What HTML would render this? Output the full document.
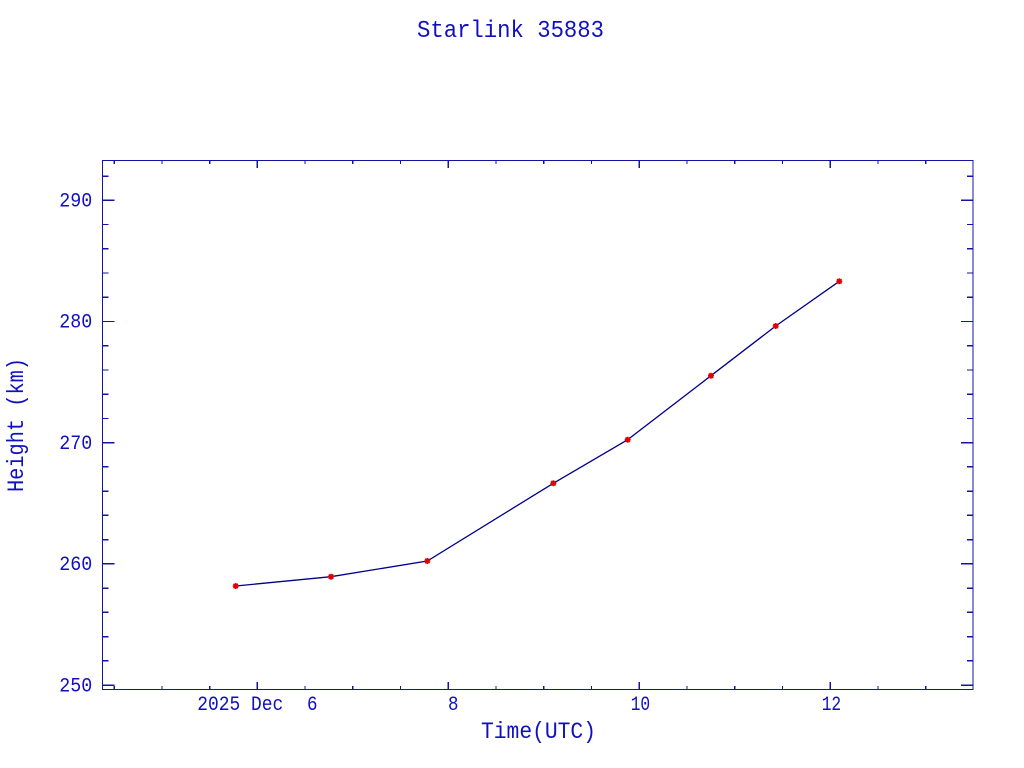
<!DOCTYPE html>
<html><head><meta charset="utf-8"><style>
html,body{margin:0;padding:0;background:#fff;}
svg{display:block;}
text{font-family:"Liberation Mono",monospace;fill:#1010c0;}
</style></head><body>
<svg width="1024" height="768" viewBox="0 0 1024 768" xmlns="http://www.w3.org/2000/svg">
<rect width="1024" height="768" fill="#fff"/>
<text x="417" y="37" font-size="24" textLength="187" lengthAdjust="spacingAndGlyphs">Starlink 35883</text>
<g stroke="#1414a0" stroke-width="1.4" fill="none" shape-rendering="crispEdges">
<rect x="102.5" y="160.5" width="870.5" height="529"/>
<path d="
M102.5 685.1h12 M973 685.1h-12
M102.5 563.9h12 M973 563.9h-12
M102.5 442.7h12 M973 442.7h-12
M102.5 321.5h12 M973 321.5h-12
M102.5 200.3h12 M973 200.3h-12
M102.5 660.9h6 M973 660.9h-6
M102.5 636.6h6 M973 636.6h-6
M102.5 612.4h6 M973 612.4h-6
M102.5 588.1h6 M973 588.1h-6
M102.5 539.7h6 M973 539.7h-6
M102.5 515.4h6 M973 515.4h-6
M102.5 491.2h6 M973 491.2h-6
M102.5 466.9h6 M973 466.9h-6
M102.5 418.5h6 M973 418.5h-6
M102.5 394.2h6 M973 394.2h-6
M102.5 370.0h6 M973 370.0h-6
M102.5 345.7h6 M973 345.7h-6
M102.5 297.3h6 M973 297.3h-6
M102.5 273.0h6 M973 273.0h-6
M102.5 248.8h6 M973 248.8h-6
M102.5 224.5h6 M973 224.5h-6
M102.5 176.1h6 M973 176.1h-6
"/>
<path d="
M114.3 690v-4 M114.3 160v4
M162.0 690v-4 M162.0 160v4
M209.8 690v-4 M209.8 160v4
M257.3 690v-8 M257.3 160v8
M305.0 690v-4 M305.0 160v4
M352.8 690v-4 M352.8 160v4
M400.5 690v-4 M400.5 160v4
M448.3 690v-8 M448.3 160v8
M496.0 690v-4 M496.0 160v4
M543.8 690v-4 M543.8 160v4
M591.5 690v-4 M591.5 160v4
M639.3 690v-8 M639.3 160v8
M687.0 690v-4 M687.0 160v4
M734.8 690v-4 M734.8 160v4
M782.5 690v-4 M782.5 160v4
M830.3 690v-8 M830.3 160v8
M878.0 690v-4 M878.0 160v4
M925.8 690v-4 M925.8 160v4
"/>
</g>
<g font-size="20">
<text x="59.3" y="206.5" textLength="33" lengthAdjust="spacingAndGlyphs">290</text>
<text x="59.3" y="327.7" textLength="33" lengthAdjust="spacingAndGlyphs">280</text>
<text x="59.3" y="448.9" textLength="33" lengthAdjust="spacingAndGlyphs">270</text>
<text x="59.3" y="570.1" textLength="33" lengthAdjust="spacingAndGlyphs">260</text>
<text x="59.3" y="691.3" textLength="33" lengthAdjust="spacingAndGlyphs">250</text>
</g>
<g font-size="20">
<text x="197.3" y="710" textLength="86" lengthAdjust="spacingAndGlyphs">2025 Dec</text>
<text x="307" y="710" textLength="10.5" lengthAdjust="spacingAndGlyphs">6</text>
<text x="448" y="710" textLength="10.5" lengthAdjust="spacingAndGlyphs">8</text>
<text x="630.7" y="710" textLength="19.5" lengthAdjust="spacingAndGlyphs">10</text>
<text x="821.7" y="710" textLength="19.5" lengthAdjust="spacingAndGlyphs">12</text>
</g>
<text x="481" y="738" font-size="23" textLength="115" lengthAdjust="spacingAndGlyphs">Time(UTC)</text>
<text transform="translate(23,425) rotate(-90)" x="0" y="0" font-size="23" text-anchor="middle" textLength="134" lengthAdjust="spacingAndGlyphs">Height (km)</text>
<polyline fill="none" stroke="#000088" stroke-width="1.3" points="235.7,586 331,576.7 427.3,561 553.3,483.3 627.7,439.7 711,375.7 775.7,326 839.3,281.3"/>
<g stroke="#e00000" stroke-width="1.6" fill="none">
<path d="M232.7 586h6M235.7 583v6M233.5 583.8l4.4 4.4M237.9 583.8l-4.4 4.4"/>
<path d="M328 576.7h6M331 573.7v6M328.8 574.5l4.4 4.4M333.2 574.5l-4.4 4.4"/>
<path d="M424.3 561h6M427.3 558v6M425.1 558.8l4.4 4.4M429.5 558.8l-4.4 4.4"/>
<path d="M550.3 483.3h6M553.3 480.3v6M551.1 481.1l4.4 4.4M555.5 481.1l-4.4 4.4"/>
<path d="M624.7 439.7h6M627.7 436.7v6M625.5 437.5l4.4 4.4M629.9 437.5l-4.4 4.4"/>
<path d="M708 375.7h6M711 372.7v6M708.8 373.5l4.4 4.4M713.2 373.5l-4.4 4.4"/>
<path d="M772.7 326h6M775.7 323v6M773.5 323.8l4.4 4.4M777.9 323.8l-4.4 4.4"/>
<path d="M836.3 281.3h6M839.3 278.3v6M837.1 279.1l4.4 4.4M841.5 279.1l-4.4 4.4"/>
</g>
</svg>
</body></html>
